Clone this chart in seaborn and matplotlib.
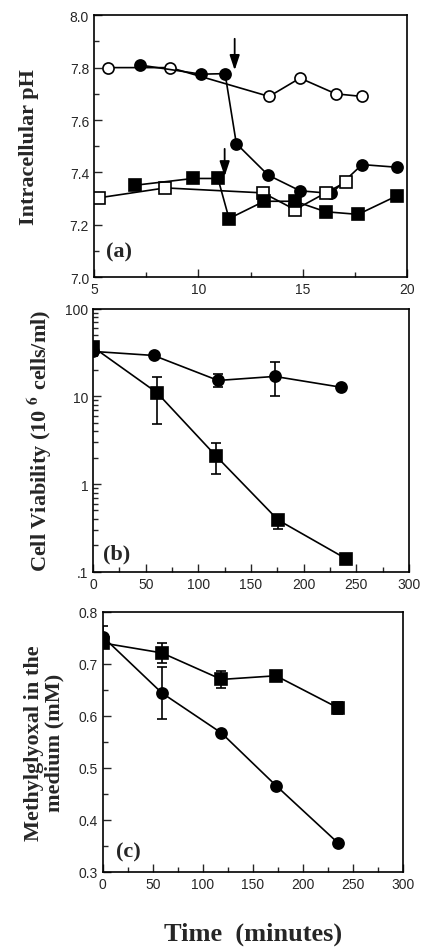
import numpy as np
import pandas as pd
import matplotlib
matplotlib.use('Agg')
import matplotlib.pyplot as plt
import seaborn as sns
from matplotlib.ticker import MultipleLocator, FixedLocator, FixedFormatter, LogLocator, NullFormatter

# (a) intracellular pH vs time
a_open_circ_t = [5.67, 8.66, 13.39, 14.87, 16.58, 17.84]
a_open_circ_ph = [7.80, 7.80, 7.69, 7.76, 7.70, 7.69]
a_fill_circ_t = [7.19, 10.14, 11.28, 11.82, 13.34, 14.87, 16.37, 17.84, 19.49]
a_fill_circ_ph = [7.81, 7.775, 7.777, 7.51, 7.39, 7.33, 7.32, 7.43, 7.42]
a_fill_sq_t = [6.95, 9.74, 10.94, 11.47, 13.15, 14.63, 16.10, 17.65, 19.49]
a_fill_sq_ph = [7.351, 7.377, 7.377, 7.224, 7.29, 7.29, 7.25, 7.24, 7.31]
a_open_sq_t = [5.22, 8.42, 13.10, 14.63, 16.10, 17.06]
a_open_sq_ph = [7.303, 7.341, 7.322, 7.258, 7.322, 7.363]
arrow_t = [11.74, 11.26]
arrow_tip = [7.79, 7.385]
arrow_tail = [7.91, 7.49]

# (b) cell viability (10^6 cells/ml)
b_t_circ = [0, 57.6, 118.8, 172.6, 236]
b_circ = [32.6, 29.3, 15.2, 16.9, 12.7]
b_circ_lo = [29.0, 29.3, 12.7, 10.0, 12.7]
b_circ_hi = [35.0, 29.3, 17.8, 24.6, 12.7]
b_t_sq = [0, 60.8, 116.5, 175.8, 240.7]
b_sq = [36.5, 11.0, 2.11, 0.389, 0.14]
b_sq_lo = [36.5, 4.9, 1.30, 0.31, 0.14]
b_sq_hi = [36.5, 16.6, 2.94, 0.44, 0.14]

# (c) methylglyoxal in the medium (mM)
c_t = [0, 59, 118.6, 173.1, 235.5]
c_sq = [0.740, 0.721, 0.670, 0.677, 0.615]
c_sq_err = [0.0, 0.019, 0.016, 0.0, 0.011]
c_circ = [0.752, 0.644, 0.567, 0.466, 0.355]
c_circ_err = [0.021, 0.050, 0.0, 0.0, 0.0]

sns.set_style('ticks')
plt.rcParams['font.family'] = ['Liberation Sans', 'DejaVu Sans']
plt.rcParams['mathtext.fontset'] = 'stix'

fig = plt.figure(figsize=(4.25, 9.53), dpi=100)
ax_a = fig.add_axes([0.221, 0.708, 0.737, 0.275])
ax_b = fig.add_axes([0.219, 0.399, 0.743, 0.276])
ax_c = fig.add_axes([0.242, 0.084, 0.706, 0.273])

lab_font = dict(family=['Liberation Serif'], weight='bold', size=16)
ms = 8


def series(ax, t, v, marker, filled, ms=ms):
    sns.lineplot(x=t, y=v, ax=ax, sort=False, estimator=None, color='black',
                 lw=1.2, marker=marker, markersize=ms,
                 markerfacecolor='black' if filled else 'white',
                 markeredgecolor='black', markeredgewidth=1.2)


# panel a
series(ax_a, a_open_circ_t, a_open_circ_ph, 'o', False)
series(ax_a, a_fill_circ_t, a_fill_circ_ph, 'o', True)
series(ax_a, a_open_sq_t, a_open_sq_ph, 's', False)
series(ax_a, a_fill_sq_t, a_fill_sq_ph, 's', True)
for t, tip, tail in zip(arrow_t, arrow_tip, arrow_tail):
    ax_a.annotate('', xy=(t, tip), xytext=(t, tail),
                  arrowprops=dict(arrowstyle='-|>,head_length=0.9,head_width=0.3',
                                  color='black', lw=1.3, shrinkA=0, shrinkB=0))
ax_a.set_xlim(5, 20)
ax_a.set_ylim(7.0, 8.0)
ax_a.xaxis.set_major_locator(MultipleLocator(5))
ax_a.xaxis.set_minor_locator(MultipleLocator(2.5))
ax_a.yaxis.set_major_locator(MultipleLocator(0.2))
ax_a.yaxis.set_minor_locator(MultipleLocator(0.1))
ax_a.yaxis.set_major_formatter(matplotlib.ticker.FormatStrFormatter('%.1f'))
ax_a.set_ylabel('Intracellular pH', **lab_font, labelpad=22)
ax_a.text(0.04, 0.08, '(a)', transform=ax_a.transAxes, **lab_font)

# panel b
ax_b.errorbar(b_t_circ, b_circ,
              yerr=[np.array(b_circ) - np.array(b_circ_lo), np.array(b_circ_hi) - np.array(b_circ)],
              fmt='none', ecolor='black', elinewidth=1.2, capsize=3.5, capthick=1.2)
ax_b.errorbar(b_t_sq, b_sq,
              yerr=[np.array(b_sq) - np.array(b_sq_lo), np.array(b_sq_hi) - np.array(b_sq)],
              fmt='none', ecolor='black', elinewidth=1.2, capsize=3.5, capthick=1.2)
series(ax_b, b_t_circ, b_circ, 'o', True)
series(ax_b, b_t_sq, b_sq, 's', True)
ax_b.set_yscale('log')
ax_b.set_xlim(0, 300)
ax_b.set_ylim(0.1, 100)
ax_b.xaxis.set_major_locator(MultipleLocator(50))
ax_b.xaxis.set_minor_locator(MultipleLocator(25))
ax_b.yaxis.set_major_locator(FixedLocator([0.1, 1, 10, 100]))
ax_b.yaxis.set_major_formatter(FixedFormatter(['.1', '1', '10', '100']))
ax_b.yaxis.set_minor_locator(LogLocator(base=10, subs=np.arange(2, 10)))
ax_b.yaxis.set_minor_formatter(NullFormatter())
ax_b.set_ylabel('Cell Viability (10 $^{\\mathbf{6}}$ cells/ml)', **lab_font, labelpad=8)
ax_b.text(0.03, 0.05, '(b)', transform=ax_b.transAxes, **lab_font)

# panel c
ax_c.errorbar(c_t, c_sq, yerr=c_sq_err, fmt='none', ecolor='black',
              elinewidth=1.2, capsize=3.5, capthick=1.2)
ax_c.errorbar(c_t, c_circ, yerr=c_circ_err, fmt='none', ecolor='black',
              elinewidth=1.2, capsize=3.5, capthick=1.2)
series(ax_c, c_t, c_sq, 's', True)
series(ax_c, c_t, c_circ, 'o', True)
ax_c.set_xlim(0, 300)
ax_c.set_ylim(0.3, 0.8)
ax_c.xaxis.set_major_locator(MultipleLocator(50))
ax_c.xaxis.set_minor_locator(MultipleLocator(25))
ax_c.yaxis.set_major_locator(MultipleLocator(0.1))
ax_c.yaxis.set_minor_locator(MultipleLocator(0.05))
ax_c.yaxis.set_major_formatter(matplotlib.ticker.FormatStrFormatter('%.1f'))
ax_c.set_ylabel('Methylglyoxal in the\nmedium (mM)', **lab_font, labelpad=10,
                linespacing=1.05)
ax_c.text(0.045, 0.06, '(c)', transform=ax_c.transAxes, **lab_font)
ax_c.set_xlabel('Time  (minutes)', family=['Liberation Serif'], weight='bold',
                size=19, labelpad=22)

for ax in (ax_a, ax_b, ax_c):
    ax.tick_params(which='both', direction='in', labelsize=10, width=1)
    ax.tick_params(which='major', length=6)
    ax.tick_params(which='minor', length=3.5)
    for s in ax.spines.values():
        s.set_linewidth(1.2)
        s.set_color('black')

fig.savefig('out.png', dpi=100)
